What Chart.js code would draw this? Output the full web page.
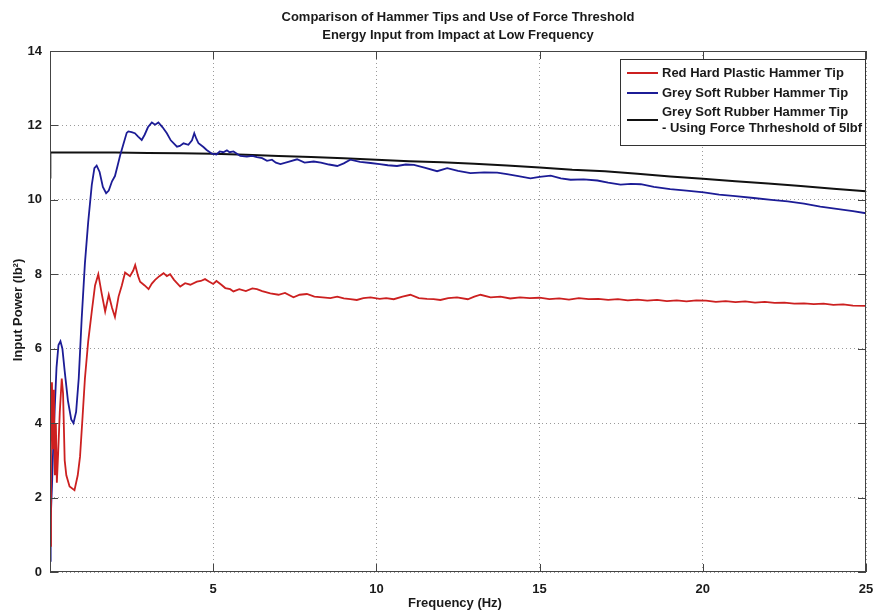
<!DOCTYPE html>
<html>
<head>
<meta charset="utf-8">
<script src="https://cdn.jsdelivr.net/npm/chart.js@4"></script>
<style>
html,body{margin:0;padding:0;background:#fff;}
#wrap{width:876px;height:612px;position:relative;}
</style>
</head>
<body>
<div id="wrap"><canvas id="c" width="876" height="612"></canvas></div>
<script>
const titleLines = ["Comparison of Hammer Tips and Use of Force Threshold", "Energy Input from Impact at Low Frequency"];
const xAxisTitle = "Frequency (Hz)";
const yAxisTitle = "Input Power (lb\u00B2)";
const seriesNames = ["Red Hard Plastic Hammer Tip", "Grey Soft Rubber Hammer Tip", "Grey Soft Rubber Hammer Tip\n- Using Force Thrheshold of 5lbf"];
const xTicks = [0, 5, 10, 15, 20, 25];
const yTicks = [0, 2, 4, 6, 8, 10, 12, 14];

const freqRed = [0.00,0.03,0.06,0.09,0.12,0.15,0.18,0.21,0.25,0.30,0.36,0.40,0.45,0.50,0.60,0.75,0.85,0.92,1.00,1.07,1.17,1.28,1.38,1.48,1.58,1.69,1.80,1.90,1.99,2.10,2.20,2.30,2.45,2.55,2.61,2.70,2.76,2.90,3.02,3.12,3.22,3.35,3.48,3.58,3.68,3.80,3.99,4.14,4.30,4.50,4.62,4.75,4.88,5.00,5.10,5.25,5.37,5.52,5.62,5.80,6.00,6.20,6.34,6.50,6.75,7.00,7.20,7.46,7.65,7.87,8.10,8.35,8.59,8.80,9.00,9.20,9.40,9.60,9.82,10.10,10.30,10.53,10.80,11.04,11.30,11.55,11.75,11.96,12.20,12.47,12.80,13.00,13.19,13.50,13.80,14.10,14.40,14.70,15.00,15.30,15.60,15.90,16.20,16.50,16.80,17.10,17.40,17.70,18.00,18.30,18.60,18.90,19.20,19.50,19.80,20.10,20.40,20.70,21.00,21.30,21.60,21.90,22.20,22.50,22.80,23.10,23.40,23.70,24.00,24.30,24.60,25.00];
const powerRed = [0.7,3.5,5.1,3.3,4.9,2.6,4.0,2.4,3.2,4.3,5.2,4.8,3.0,2.6,2.3,2.2,2.6,3.1,4.2,5.2,6.2,7.0,7.7,8.0,7.5,7.0,7.45,7.1,6.85,7.4,7.7,8.05,7.95,8.1,8.25,7.95,7.8,7.7,7.6,7.75,7.85,7.95,8.03,7.95,8.0,7.85,7.67,7.76,7.72,7.8,7.82,7.87,7.8,7.74,7.82,7.72,7.63,7.6,7.54,7.6,7.55,7.62,7.6,7.55,7.49,7.45,7.5,7.38,7.45,7.47,7.4,7.38,7.36,7.4,7.35,7.33,7.31,7.36,7.38,7.34,7.36,7.33,7.4,7.45,7.36,7.34,7.33,7.31,7.36,7.38,7.33,7.4,7.45,7.38,7.4,7.35,7.38,7.36,7.37,7.33,7.35,7.32,7.36,7.33,7.34,7.31,7.33,7.3,7.32,7.29,7.31,7.28,7.3,7.27,7.3,7.29,7.26,7.28,7.25,7.27,7.24,7.26,7.23,7.24,7.21,7.22,7.2,7.21,7.18,7.19,7.16,7.15];

const freqBlue = [0.00,0.02,0.06,0.10,0.15,0.20,0.26,0.32,0.38,0.45,0.55,0.65,0.72,0.80,0.88,0.97,1.07,1.17,1.28,1.36,1.43,1.52,1.62,1.72,1.80,1.90,1.99,2.08,2.15,2.25,2.35,2.40,2.50,2.60,2.70,2.81,2.90,3.00,3.12,3.22,3.32,3.45,3.58,3.70,3.89,3.98,4.09,4.24,4.35,4.42,4.48,4.55,4.70,4.80,4.96,5.10,5.20,5.31,5.42,5.50,5.62,5.83,6.03,6.20,6.34,6.50,6.65,6.80,6.92,7.06,7.30,7.57,7.80,8.08,8.30,8.55,8.80,9.00,9.20,9.50,9.82,10.10,10.35,10.63,10.90,11.15,11.50,11.86,12.17,12.50,12.88,13.30,13.70,14.00,14.35,14.72,15.00,15.34,15.65,15.95,16.35,16.77,17.10,17.48,17.80,18.10,18.50,19.00,19.50,20.03,20.50,21.00,21.56,22.10,22.60,23.10,23.60,24.10,24.60,25.00];
const powerBlue = [0.3,1.4,2.3,3.4,4.5,5.5,6.1,6.2,6.0,5.4,4.6,4.1,4.0,4.3,5.2,6.8,8.3,9.4,10.4,10.85,10.92,10.75,10.35,10.18,10.25,10.5,10.64,10.95,11.2,11.5,11.8,11.84,11.82,11.79,11.7,11.61,11.75,11.95,12.08,12.02,12.08,11.95,11.79,11.6,11.43,11.45,11.52,11.48,11.6,11.79,11.65,11.52,11.42,11.34,11.24,11.22,11.3,11.28,11.33,11.28,11.3,11.18,11.16,11.18,11.15,11.12,11.05,11.08,11.0,10.96,11.02,11.09,11.0,11.03,11.0,10.95,10.91,10.98,11.08,11.02,10.99,10.96,10.93,10.91,10.95,10.94,10.86,10.77,10.85,10.78,10.72,10.74,10.73,10.69,10.64,10.58,10.62,10.65,10.58,10.54,10.55,10.52,10.46,10.41,10.43,10.42,10.35,10.29,10.25,10.2,10.14,10.1,10.05,10.0,9.96,9.9,9.82,9.76,9.7,9.64];

const freqBlack = [0.00,0.01,1,2,3,4,5,6,7,8,9,10,11,12,13,14,15,16,17,18,19,20,21,22,23,24,25];
const powerBlack = [10.6,11.27,11.27,11.27,11.26,11.25,11.24,11.21,11.18,11.15,11.12,11.08,11.04,11.01,10.97,10.92,10.87,10.81,10.77,10.70,10.63,10.57,10.50,10.44,10.37,10.30,10.23];

const seriesColors = ["#cc2020", "#1c1c96", "#111111"];

function pairs(xs, ys){ return xs.map((x,i)=>({x:x, y:ys[i]})); }

const FONT = "'Liberation Sans Narrow', 'Liberation Sans', Arial, sans-serif";

const decor = {
  id: 'decor',
  afterDraw(chart){
    const ctx = chart.ctx, a = chart.chartArea;
    const xs = chart.scales.x, ys = chart.scales.y;
    ctx.save();
    ctx.strokeStyle = '#444'; ctx.lineWidth = 1;
    ctx.strokeRect(a.left+0.5, a.top+0.5, a.right-a.left-1, a.bottom-a.top-1);
    ctx.beginPath();
    xTicks.forEach(v=>{ const px = Math.round(xs.getPixelForValue(v))+0.5;
      ctx.moveTo(px,a.bottom); ctx.lineTo(px,a.bottom-8);
      ctx.moveTo(px,a.top); ctx.lineTo(px,a.top+8); });
    yTicks.forEach(v=>{ const py = Math.round(ys.getPixelForValue(v))+0.5;
      ctx.moveTo(a.left,py); ctx.lineTo(a.left+8,py);
      ctx.moveTo(a.right,py); ctx.lineTo(a.right-8,py); });
    ctx.stroke();
    ctx.fillStyle = '#1a1a1a';
    ctx.font = "bold 13px " + FONT;
    ctx.textAlign = 'center'; ctx.textBaseline = 'middle';
    ctx.fillText(titleLines[0], 458, 17);
    ctx.fillText(titleLines[1], 458, 35);
    ctx.fillText(xAxisTitle, 455, 603);
    ctx.save();
    ctx.translate(18, 310); ctx.rotate(-Math.PI/2);
    ctx.fillText(yAxisTitle, 0, 0);
    ctx.restore();
    const bx = 620, by = 59, bw = 245, bh = 86;
    ctx.fillStyle = '#fff';
    ctx.fillRect(bx, by, bw, bh);
    ctx.strokeStyle = '#333'; ctx.lineWidth = 1;
    ctx.strokeRect(bx+0.5, by+0.5, bw, bh);
    const rows = [73, 93, 120];
    ctx.textAlign = 'left';
    ctx.font = "bold 13px " + FONT;
    seriesNames.forEach((name,i)=>{
      ctx.strokeStyle = seriesColors[i]; ctx.lineWidth = 2;
      ctx.beginPath(); ctx.moveTo(627, rows[i]); ctx.lineTo(658, rows[i]); ctx.stroke();
      ctx.fillStyle = '#1a1a1a';
      const parts = name.split('\n');
      if (parts.length === 1) ctx.fillText(parts[0], 662, rows[i]);
      else { ctx.fillText(parts[0], 662, rows[i]-8); ctx.fillText(parts[1], 662, rows[i]+8); }
    });
    ctx.restore();
  }
};

new Chart(document.getElementById('c'), {
  type: 'line',
  data: {
    datasets: [
      {label: seriesNames[0], data: pairs(freqRed, powerRed), borderColor: seriesColors[0], borderWidth: 1.8, pointRadius: 0, tension: 0, fill: false},
      {label: seriesNames[1], data: pairs(freqBlue, powerBlue), borderColor: seriesColors[1], borderWidth: 1.8, pointRadius: 0, tension: 0, fill: false},
      {label: seriesNames[2], data: pairs(freqBlack, powerBlack), borderColor: seriesColors[2], borderWidth: 2, pointRadius: 0, tension: 0, fill: false}
    ]
  },
  options: {
    responsive: false,
    animation: false,
    layout: {padding: {top: 51, right: 10, left: 0, bottom: 0}},
    plugins: {legend: {display: false}, title: {display: false}, tooltip: {enabled: false}},
    scales: {
      x: {
        type: 'linear', min: 0, max: 25,
        afterFit(s){ s.height = 40; s.paddingLeft = 0; s.paddingRight = 0; },
        afterBuildTicks(s){ s.ticks = xTicks.map(v=>({value:v})); },
        grid: {color: '#9a9a9a', lineWidth: 1, drawTicks: false},
        border: {display: false, dash: [1,3]},
        ticks: {padding: 10, color: '#1a1a1a', font: {family: FONT, size: 13, weight: 'bold'}, maxRotation: 0,
          callback: v => v === 0 ? '' : String(v)}
      },
      y: {
        min: 0, max: 14,
        afterFit(s){ s.width = 50; s.paddingTop = 0; s.paddingBottom = 0; },
        afterBuildTicks(s){ s.ticks = yTicks.map(v=>({value:v})); },
        grid: {color: '#9a9a9a', lineWidth: 1, drawTicks: false},
        border: {display: false, dash: [1,3]},
        ticks: {padding: 8, color: '#1a1a1a', font: {family: FONT, size: 13, weight: 'bold'}}
      }
    }
  },
  plugins: [decor]
});
</script>
</body>
</html>
